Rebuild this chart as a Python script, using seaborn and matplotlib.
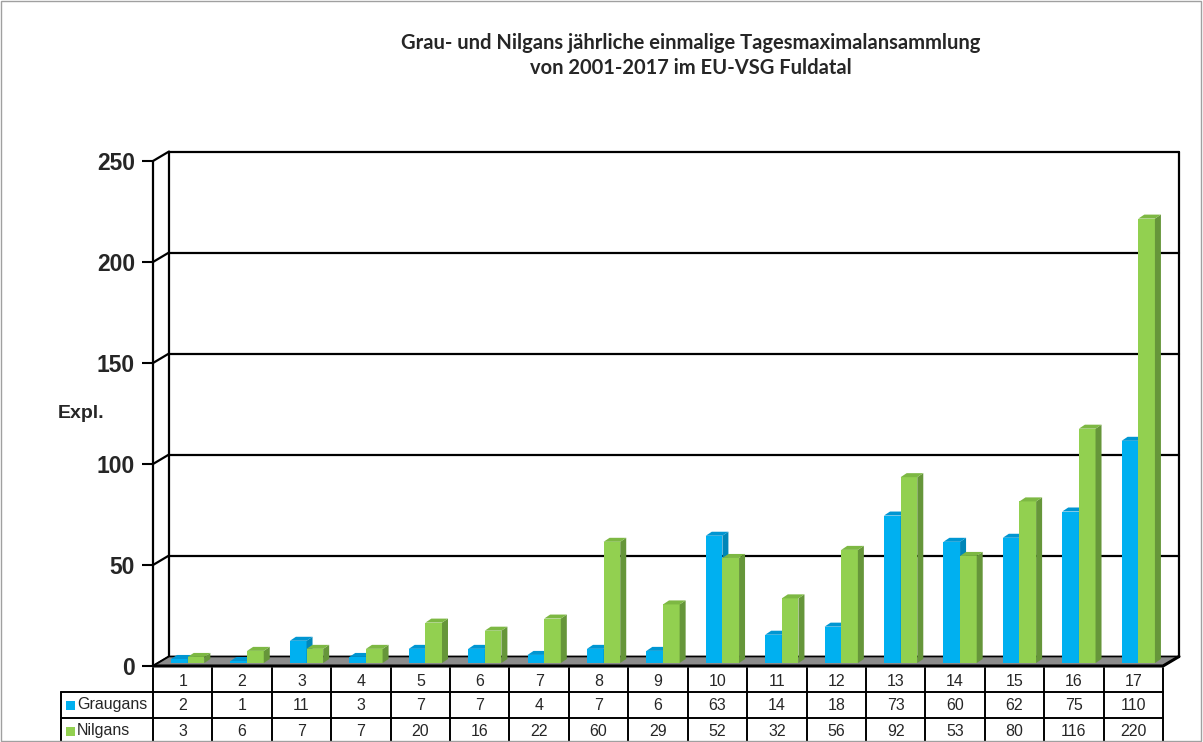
import matplotlib
matplotlib.use("Agg")
import matplotlib.pyplot as plt
import matplotlib.patches as mpatches
import pandas as pd
import seaborn as sns

# Daten
nummern = [str(i) for i in range(1, 18)]
graugans = [2, 1, 11, 3, 7, 7, 4, 7, 6, 63, 14, 18, 73, 60, 62, 75, 110]
nilgans = [3, 6, 7, 7, 20, 16, 22, 60, 29, 52, 32, 56, 92, 53, 80, 116, 220]
arten = ["Graugans", "Nilgans"]
farben = {"Graugans": "#00B0F0", "Nilgans": "#92D050"}
seiten = {"Graugans": "#0086B8", "Nilgans": "#66963A"}
deckel = {"Graugans": "#0096D2", "Nilgans": "#7DB843"}
yticks = [0, 50, 100, 150, 200, 250]
titel = ["Grau- und Nilgans jährliche einmalige Tagesmaximalansammlung",
         "von 2001-2017 im EU-VSG Fuldatal"]

df = pd.DataFrame({
    "Nr": nummern * 2,
    "Expl": graugans + nilgans,
    "Art": ["Graugans"] * len(nummern) + ["Nilgans"] * len(nummern),
})

sns.set_style("white")
plt.rcParams["font.family"] = ["Liberation Sans", "DejaVu Sans"]

W, H = 1203, 742
fig = plt.figure(figsize=(W / 100, H / 100), dpi=100)

# front face of the plot area in pixels
left, right, y0px, ytop = 153, 1163, 666, 161
ax = fig.add_axes([left / W, (H - y0px) / H, (right - left) / W, (y0px - ytop) / H])

sns.barplot(data=df, x="Nr", y="Expl", hue="Art", order=nummern, hue_order=arten,
            palette=farben, width=0.56, saturation=1, legend=False, ax=ax)

ax.set_xlim(-0.5, 16.5)
ax.set_ylim(0, 250)
kx = 17 / (right - left)      # data units per pixel
ky = 250 / (y0px - ytop)

def py(p):
    # pixel row -> data y
    return (y0px - p) * ky

# 3D box: floor depth
Dx, Dy = 16 * kx, 9.5 * ky
lw = 1.6
for v in yticks:
    ax.plot([-0.5 + Dx, 16.5 + Dx], [v + Dy, v + Dy], color="black", lw=lw, zorder=1, clip_on=False)
    ax.plot([-0.5, -0.5 + Dx], [v, v + Dy], color="black", lw=lw, zorder=1, clip_on=False)
ax.plot([-0.5, -0.5], [0, 250], color="black", lw=lw, zorder=1, clip_on=False)
ax.plot([-0.5 + Dx, -0.5 + Dx], [Dy, 250 + Dy], color="black", lw=lw, zorder=1, clip_on=False)
ax.plot([16.5 + Dx, 16.5 + Dx], [Dy, 250 + Dy], color="black", lw=lw, zorder=1, clip_on=False)

boden = mpatches.Polygon([(-0.5, 0), (16.5, 0), (16.5 + Dx, Dy), (-0.5 + Dx, Dy)],
                         closed=True, fc="#8C8C8C", ec="black", lw=1.2, zorder=2, clip_on=False)
ax.add_patch(boden)
ax.plot([-0.5, 16.5, 16.5 + Dx], [0, 0, Dy], color="black", lw=2.2, zorder=2.5, clip_on=False)

# bars with side and top faces
bx, by = 6 * kx, 4 * ky
sx, sy = 5 * kx, 3 * ky
n = len(nummern)
for i, p in enumerate(ax.patches[:2 * n]):
    art = arten[i // n]
    z = 3 if art == "Graugans" else 4
    p.set_x(p.get_x() + sx)
    p.set_y(sy)
    p.set_zorder(z)
    p.set_edgecolor("none")
    x0, w, h = p.get_x(), p.get_width(), p.get_height()
    yb, yt = sy, sy + h
    seite = mpatches.Polygon([(x0 + w, yb), (x0 + w, yt), (x0 + w + bx, yt + by), (x0 + w + bx, yb + by)],
                             closed=True, fc=seiten[art], ec="none", zorder=z, clip_on=False)
    oben = mpatches.Polygon([(x0, yt), (x0 + w, yt), (x0 + w + bx, yt + by), (x0 + bx, yt + by)],
                            closed=True, fc=deckel[art], ec="none", zorder=z, clip_on=False)
    ax.add_patch(seite)
    ax.add_patch(oben)
    p.set_clip_on(False)

for s in ax.spines.values():
    s.set_visible(False)
ax.set_xticks([])
ax.set_xlabel("")
ax.set_ylabel("")
ax.set_yticks(yticks)
ax.set_yticklabels([str(v) for v in yticks], fontsize=16.5, fontweight="bold")
ax.tick_params(axis="y", left=True, length=8, width=1.5, color="black", pad=5)

# data table
tl = -0.5 - (left - 61) * kx
r1, r2, r3, r4 = py(668), py(692), py(718), py(745)
tkw = dict(color="black", lw=1.4, zorder=5, clip_on=False)
for k in range(1, 18):
    ax.plot([-0.5 + k, -0.5 + k], [r1, r4], **tkw)
ax.plot([-0.5, -0.5], [r1, r4], **tkw)
ax.plot([tl, tl], [r2, r4], **tkw)
ax.plot([tl, 16.5], [r2, r2], **tkw)
ax.plot([tl, 16.5], [r3, r3], **tkw)
fs = 11.5
for k, lab in enumerate(nummern):
    ax.text(k, py(681), lab, ha="center", va="center", fontsize=fs, clip_on=False)
    ax.text(k, py(705), str(graugans[k]), ha="center", va="center", fontsize=fs, clip_on=False)
    ax.text(k, py(731), str(nilgans[k]), ha="center", va="center", fontsize=fs, clip_on=False)
for art, yy in zip(arten, [705, 731]):
    ax.add_patch(mpatches.Rectangle((tl + 5 * kx, py(yy) - 4.5 * ky), 9 * kx, 9 * ky,
                                    fc=farben[art], ec="none", zorder=5, clip_on=False))
    ax.text(tl + 16 * kx, py(yy), art, ha="left", va="center", fontsize=fs, clip_on=False)

for zeile, ypx in zip(titel, [43, 68]):
    fig.text(691 / W, 1 - ypx / H, zeile, ha="center", va="center", fontsize=14.5,
             fontweight="bold", family=["Lato", "DejaVu Sans"])
fig.text(58 / W, 1 - 413 / H, "Expl.", ha="left", va="center", fontsize=14, fontweight="bold")

fig.patches.append(mpatches.Rectangle((0.001, 0.001), 0.997, 0.997, transform=fig.transFigure,
                                      fill=False, ec="#A0A0A0", lw=1))

fig.savefig("out.png", dpi=100)
